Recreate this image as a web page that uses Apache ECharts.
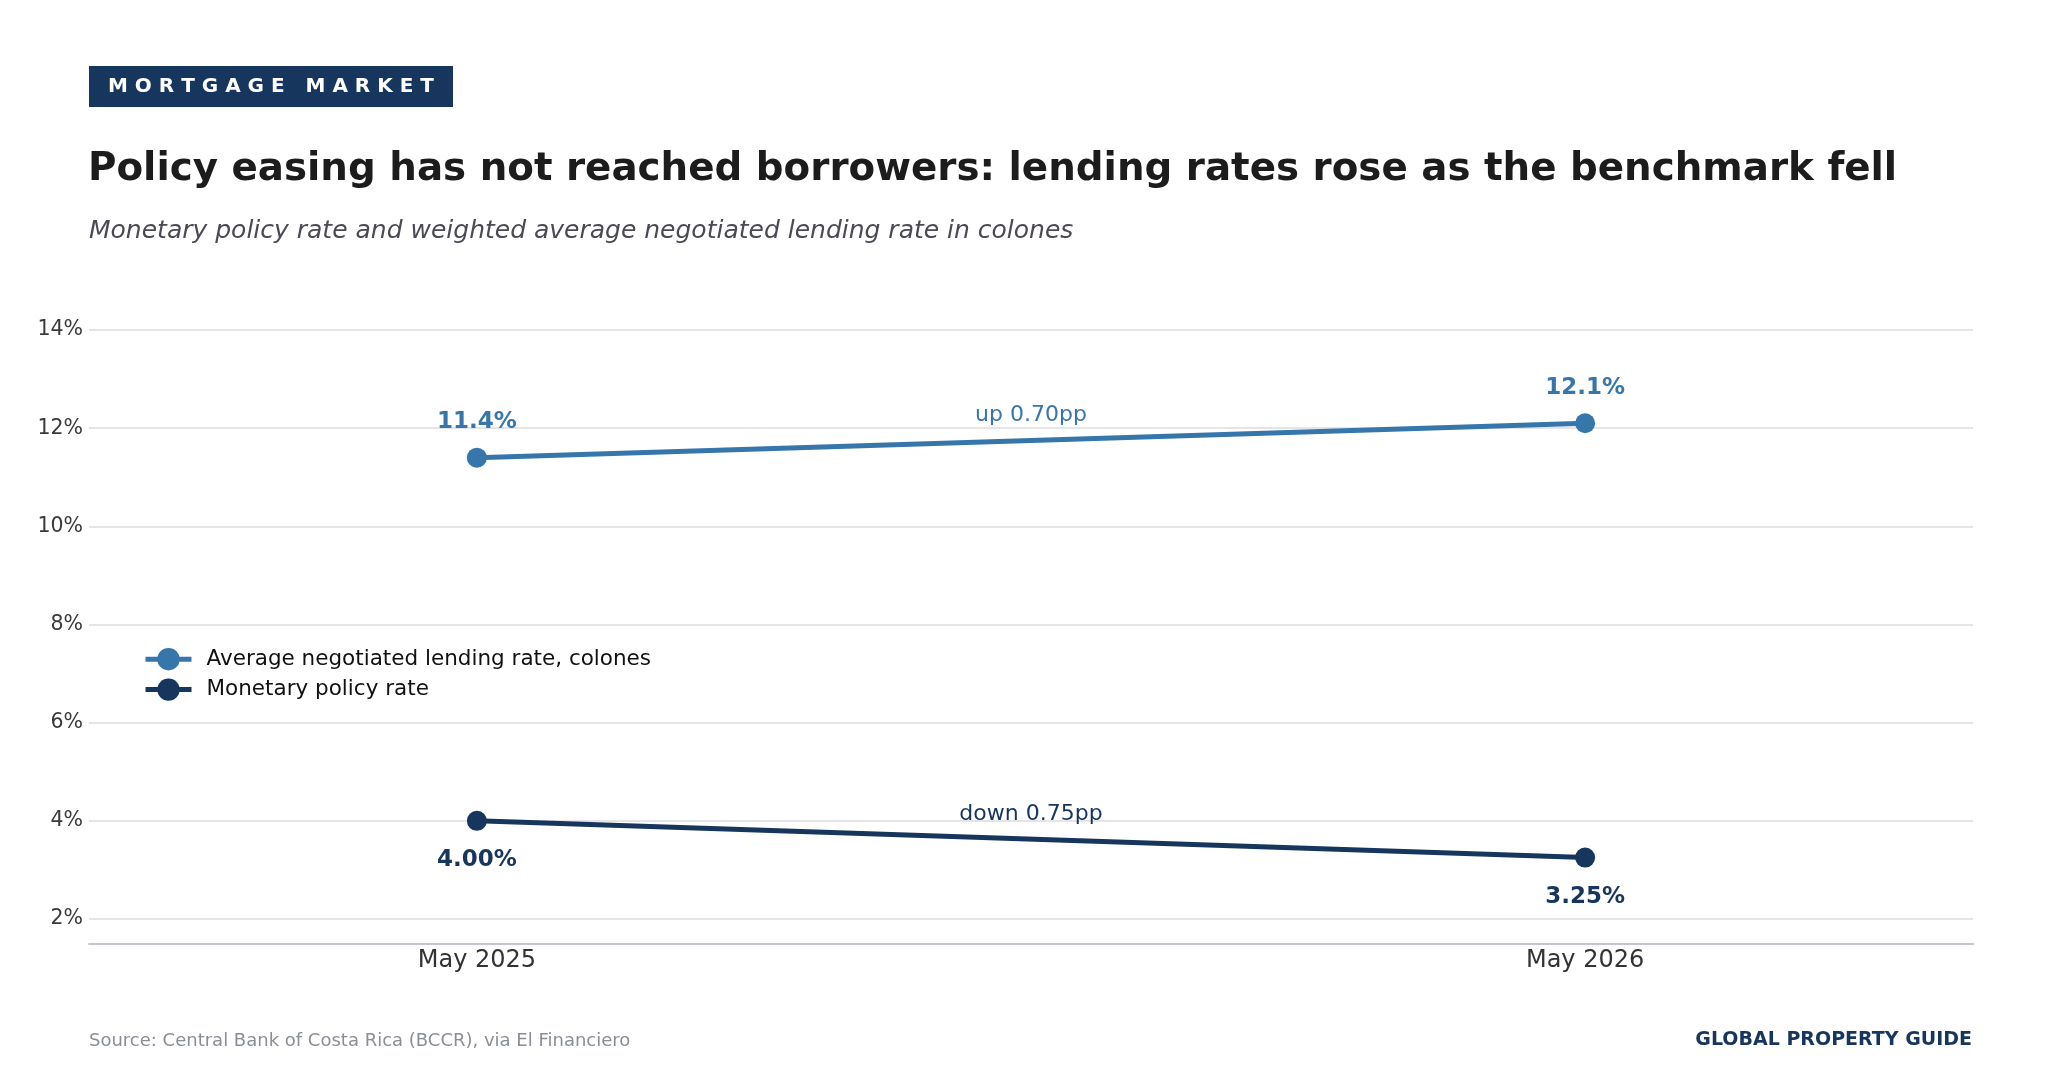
<!DOCTYPE html>
<html>
<head>
<meta charset="utf-8">
<script src="https://cdn.jsdelivr.net/npm/echarts@6/dist/echarts.min.js"></script>
<style>html,body{margin:0;padding:0;background:#fff}#c{width:2060px;height:1090px}</style>
</head>
<body>
<div id="c"></div>
<script>
const categories = ['May 2025', 'May 2026'];
const lendingRate = [11.4, 12.1];
const policyRate = [4.00, 3.25];
const lendingLabels = ['11.4%', '12.1%'];
const policyLabels = ['4.00%', '3.25%'];
const yTicks = [2, 4, 6, 8, 10, 12, 14];
const seriesNames = ['Average negotiated lending rate, colones', 'Monetary policy rate'];

const BLUE = '#3776ab';
const NAVY = '#17365d';
const FONT = 'DejaVu Sans';

function pts(vals) { return vals.map((v, i) => [i, v]); }
function mid(vals) { return [(vals.length - 1) / 2, (vals[0] + vals[vals.length - 1]) / 2]; }
function changeText(vals) {
  const d = vals[vals.length - 1] - vals[0];
  return (d >= 0 ? 'up ' : 'down ') + Math.abs(d).toFixed(2) + 'pp';
}

const chart = echarts.init(document.getElementById('c'));
chart.setOption({
  backgroundColor: '#fff',
  animation: false,
  textStyle: { fontFamily: FONT },
  grid: { left: 89, right: 87, top: 305.5, bottom: 146.5, containLabel: false },
  xAxis: {
    type: 'value', min: -0.35, max: 1.35,
    axisLine: { show: true, lineStyle: { color: '#c4c7cd', width: 2 } },
    axisTick: { show: false, customValues: categories.map((c, i) => i) },
    splitLine: { show: false },
    axisLabel: {
      customValues: categories.map((c, i) => i),
      formatter: v => categories[Math.round(v)],
      fontSize: 24, color: '#333', margin: 5, fontFamily: FONT
    }
  },
  yAxis: {
    type: 'value', min: 1.5, max: 14.5,
    axisLine: { show: false },
    axisTick: { show: false, customValues: yTicks },
    splitLine: { show: true, lineStyle: { color: '#dcdde2', width: 1.5 } },
    axisLabel: {
      customValues: yTicks,
      formatter: v => v + '%',
      fontSize: 20.5, color: '#3a3a3a', margin: 6, fontFamily: FONT,
      padding: [5, 0, 0, 0]
    }
  },
  legend: {
    orient: 'vertical', left: 138, top: 643,
    itemWidth: 46, itemHeight: 28, itemGap: 8,
    lineStyle: { width: 5 },
    textStyle: { fontSize: 21.5, color: '#111', fontFamily: FONT, padding: [0, 0, 0, 10] },
    data: seriesNames
  },
  series: [
    {
      name: seriesNames[0], type: 'line', data: pts(lendingRate),
      symbol: 'circle', symbolSize: 20,
      lineStyle: { color: BLUE, width: 5 }, itemStyle: { color: BLUE },
      label: {
        show: true, position: 'top', distance: 14,
        formatter: p => lendingLabels[p.dataIndex],
        fontSize: 23, fontWeight: 'bold', color: BLUE, fontFamily: FONT
      },
      markPoint: {
        symbol: 'circle', symbolSize: 0, silent: true,
        label: { show: true, position: 'inside', offset: [0, -25], fontSize: 22, color: BLUE, fontFamily: FONT, formatter: () => changeText(lendingRate) },
        data: [{ coord: mid(lendingRate) }]
      },
      z: 3
    },
    {
      name: seriesNames[1], type: 'line', data: pts(policyRate),
      symbol: 'circle', symbolSize: 20,
      lineStyle: { color: NAVY, width: 5 }, itemStyle: { color: NAVY },
      label: {
        show: true, position: 'bottom', distance: 18,
        formatter: p => policyLabels[p.dataIndex],
        fontSize: 23, fontWeight: 'bold', color: NAVY, fontFamily: FONT
      },
      markPoint: {
        symbol: 'circle', symbolSize: 0, silent: true,
        label: { show: true, position: 'inside', offset: [0, -25], fontSize: 22, color: NAVY, fontFamily: FONT, formatter: () => changeText(policyRate) },
        data: [{ coord: mid(policyRate) }]
      },
      z: 3
    }
  ],
  graphic: [
    { type: 'rect', left: 89, top: 66, shape: { width: 364, height: 41 }, style: { fill: NAVY } },
    { type: 'text', left: 108, top: 77, style: { text: 'M O R T G A G E   M A R K E T', fill: '#fff', font: 'bold 20px "DejaVu Sans"' } },
    { type: 'text', left: 88, top: 150, style: { text: 'Policy easing has not reached borrowers: lending rates rose as the benchmark fell', fill: '#1c1c1c', font: 'bold 38.8px "DejaVu Sans"' } },
    { type: 'text', left: 89, top: 219, style: { text: 'Monetary policy rate and weighted average negotiated lending rate in colones', fill: '#4a4a55', font: 'italic 25px "DejaVu Sans"' } },
    { type: 'text', left: 89, top: 1032, style: { text: 'Source: Central Bank of Costa Rica (BCCR), via El Financiero', fill: '#8a8e96', font: '18px "DejaVu Sans"' } },
    { type: 'text', right: 88, top: 1031, style: { text: 'GLOBAL PROPERTY GUIDE', fill: NAVY, font: 'bold 19px "DejaVu Sans"' } }
  ]
});
</script>
</body>
</html>
